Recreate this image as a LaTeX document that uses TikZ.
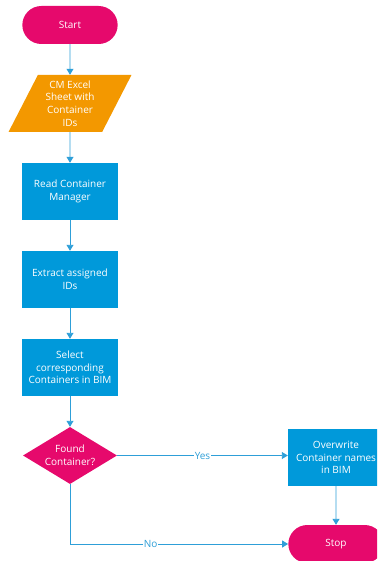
\documentclass[tikz,border=0pt]{standalone}
\usepackage{fontspec}
\setmainfont{Open Sans}
\usetikzlibrary{shapes.geometric,shapes.misc,arrows.meta}
\definecolor{flowmagenta}{HTML}{E6096C}
\definecolor{floworange}{HTML}{F39800}
\definecolor{flowblue}{HTML}{0099DA}
\definecolor{flowline}{HTML}{2E9FD8}
\tikzset{
  terminal/.style={rounded rectangle,fill=flowmagenta,minimum width=102pt,minimum height=38pt},
  io/.style={trapezium,trapezium left angle=64,trapezium right angle=116,trapezium stretches=true,fill=floworange,minimum width=124pt,minimum height=57pt,inner sep=0pt},
  process/.style={rectangle,fill=flowblue,minimum width=96pt,minimum height=57pt,inner sep=1pt},
  decision/.style={diamond,shape aspect=1.65,fill=flowmagenta,minimum width=94pt,minimum height=57pt,inner sep=-2pt},
  flow/.style={draw=flowline,line width=0.9pt,-{Triangle[width=7pt,length=6pt]}},
  answer/.style={fill=white,inner sep=0.5pt,text=flowline}
}
\begin{document}
\begin{tikzpicture}[x=1pt,y=-1pt,every node/.style={font=\fontsize{10}{12.7}\selectfont,text=white,align=center}, node distance=88pt]
  \useasboundingbox (0,0) rectangle (377,561);
  \clip (0,0) rectangle (377,561);
  \node[terminal] (start) at (70,25) {Start};
  \node[io] (sheet) at (70,103.5) {CM Excel\\Sheet with\\Container\\IDs};
  \node[process] (read) [below of=sheet] {Read Container\\Manager};
  \node[process] (extract) [below of=read] {Extract assigned\\IDs};
  \node[process] (select) [below of=extract] {Select\\corresponding\\Containers in BIM};
  \node[decision] (found) [below of=select] {Found\\Container?};
  \node[process] (overwrite) at (336,457.5) {Overwrite\\Container names\\in BIM};
  \node[terminal] (stop) at (336,544) {Stop};
  \coordinate (corner) at (found.south |- stop.west);
  \draw[flow] (start) -- (sheet);
  \draw[flow] (sheet) -- (read);
  \draw[flow] (read) -- (extract);
  \draw[flow] (extract) -- (select);
  \draw[flow] (select) -- (found);
  \draw[flow] (found.east) -- node[answer] {Yes} (overwrite.west |- found.east);
  \draw[flow] (overwrite) -- (stop);
  \draw[flow] (found.south) -- (corner) -- node[answer,pos=0.37] {No} (stop.west);
\end{tikzpicture}
\end{document}
